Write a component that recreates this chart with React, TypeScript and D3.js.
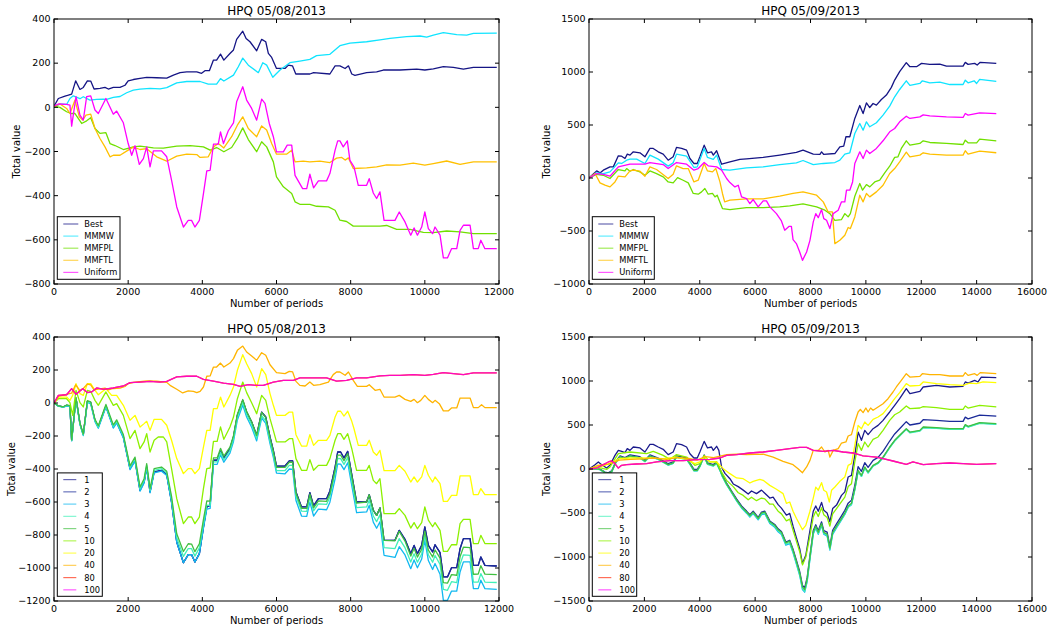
import * as d3 from 'd3'

type Pt = [number, number]

const TITLE_A = 'HPQ 05/08/2013'
const TITLE_B = 'HPQ 05/09/2013'
const X_LABEL = 'Number of periods'
const Y_LABEL = 'Total value'

const TOP_NAMES = ['Best', 'MMMW', 'MMFPL', 'MMFTL', 'Uniform']
const TOP_COLORS = ['#151585', '#10e4ff', '#70e000', '#ffc000', '#ff00ff']
const WIN_NAMES = ['1', '2', '3', '4', '5', '10', '20', '40', '80', '100']
const WIN_COLORS = ['#1a1a8c', '#1a2a98', '#10b8f0', '#40f0b8', '#40c040', '#8cf000', '#ffff00', '#ffb400', '#ff2000', '#ff00ff']

const X_TICKS_A = [0, 2000, 4000, 6000, 8000, 10000, 12000]
const X_TICKS_B = [0, 2000, 4000, 6000, 8000, 10000, 12000, 14000, 16000]
const Y_TICKS_TL = [-800, -600, -400, -200, 0, 200, 400]
const Y_TICKS_TR = [-1000, -500, 0, 500, 1000, 1500]
const Y_TICKS_BL = [-1200, -1000, -800, -600, -400, -200, 0, 200, 400]
const Y_TICKS_BR = [-1500, -1000, -500, 0, 500, 1000, 1500]

// ---- top left: HPQ 05/08/2013, methods
const TL_BEST: Pt[] = [[0,5],[117,40],[297,51],[387,55],[476,60],[584,120],[700,81],[790,90],[900,120],[990,119],[1080,83],[1240,86],[1375,90],[1465,83],[1600,90],[1780,90],[1915,100],[2000,120],[2140,126],[2320,131],[2500,136],[2770,134],[3040,132],[3220,146],[3400,157],[3580,161],[3850,161],[3980,154],[4070,166],[4190,166],[4300,214],[4385,214],[4490,241],[4580,214],[4745,244],[4840,260],[4925,308],[5090,345],[5180,312],[5285,297],[5465,256],[5600,308],[5710,297],[5780,244],[5870,226],[6000,176],[6230,176],[6320,191],[6430,188],[6520,151],[6900,151],[7000,157],[7440,151],[7580,188],[7710,188],[7850,176],[7940,188],[8030,151],[8115,145],[8430,157],[8700,161],[8880,169],[9330,169],[9780,173],[10000,169],[10230,174],[10500,184],[10770,181],[11040,173],[11310,181],[11940,181]]
const TL_MMMW: Pt[] = [[0,0],[160,15],[340,13],[430,40],[520,52],[700,39],[790,48],[970,33],[1150,36],[1330,37],[1420,36],[1600,45],[1780,49],[1960,66],[2140,78],[2320,82],[2590,86],[2860,84],[3040,89],[3310,111],[3580,117],[3940,117],[4160,105],[4385,105],[4490,130],[4580,119],[4840,146],[4970,184],[5090,223],[5240,191],[5510,157],[5630,202],[5735,191],[5900,136],[6095,169],[6360,202],[6630,209],[6900,217],[7080,234],[7440,240],[7710,279],[7980,291],[8430,297],[8790,305],[9060,312],[9510,320],[9870,323],[10050,318],[10230,327],[10500,338],[10860,329],[11130,327],[11310,335],[11940,336]]
const TL_MMFPL: Pt[] = [[0,5],[160,0],[340,-20],[476,-28],[566,-28],[746,-73],[880,-61],[990,-47],[1105,-96],[1240,-118],[1400,-115],[1510,-164],[1645,-173],[1870,-191],[2140,-179],[2320,-176],[2680,-184],[2950,-185],[3310,-176],[3670,-173],[4030,-179],[4210,-194],[4385,-182],[4580,-201],[4790,-182],[4945,-141],[5090,-93],[5240,-146],[5465,-201],[5600,-156],[5735,-179],[5915,-247],[6000,-315],[6185,-360],[6410,-390],[6500,-428],[6630,-439],[6900,-439],[7080,-448],[7400,-451],[7580,-466],[7710,-511],[7890,-517],[8070,-538],[8430,-538],[8790,-538],[8970,-535],[9240,-553],[9600,-553],[9960,-566],[10230,-567],[10590,-560],[10950,-564],[11310,-572],[11940,-572]]
const TL_MMFTL: Pt[] = [[0,5],[160,15],[340,-5],[430,-28],[566,33],[683,-43],[773,-58],[863,-35],[990,-31],[1105,-96],[1240,-141],[1375,-179],[1510,-224],[1600,-217],[1780,-217],[2000,-194],[2140,-180],[2320,-191],[2500,-187],[2770,-224],[3040,-244],[3310,-221],[3580,-212],[3850,-214],[3940,-227],[4160,-224],[4300,-179],[4430,-164],[4580,-184],[4790,-133],[4945,-81],[5090,-43],[5240,-96],[5465,-133],[5600,-84],[5735,-103],[5870,-164],[6000,-212],[6270,-212],[6410,-194],[6500,-247],[6720,-244],[6900,-247],[7170,-244],[7440,-250],[7620,-230],[7760,-227],[7850,-239],[7940,-229],[8070,-277],[8430,-274],[8700,-270],[8970,-261],[9330,-262],[9690,-253],[10000,-262],[10230,-255],[10590,-243],[10950,-258],[11310,-247],[11940,-247]]
const TL_UNIFORM: Pt[] = [[0,5],[117,15],[340,13],[430,10],[476,-85],[593,48],[700,-35],[790,-58],[880,48],[990,52],[1105,-12],[1195,-28],[1400,40],[1600,-31],[1690,-17],[1870,-70],[2000,-164],[2095,-217],[2185,-174],[2300,-258],[2410,-232],[2500,-179],[2590,-270],[2680,-197],[2900,-197],[3040,-224],[3170,-330],[3310,-451],[3490,-542],[3620,-512],[3710,-512],[3800,-542],[3920,-512],[4030,-391],[4120,-288],[4210,-285],[4300,-167],[4430,-167],[4490,-111],[4570,-164],[4700,-106],[4840,-70],[4925,25],[5090,93],[5195,33],[5330,-5],[5465,-58],[5600,37],[5690,18],[5805,-73],[5915,-133],[6000,-202],[6185,-202],[6290,-171],[6410,-171],[6500,-308],[6705,-368],[6815,-368],[6900,-303],[7000,-365],[7130,-333],[7350,-333],[7440,-300],[7580,-194],[7650,-152],[7710,-152],[7800,-179],[7910,-152],[7980,-240],[8090,-270],[8205,-353],[8430,-353],[8500,-323],[8610,-388],[8700,-413],[8790,-383],[8900,-512],[9195,-512],[9310,-474],[9465,-519],[9620,-579],[9710,-546],[9800,-579],[9915,-542],[10000,-474],[10095,-549],[10210,-572],[10275,-542],[10410,-579],[10500,-682],[10610,-682],[10720,-640],[10860,-640],[10950,-557],[11040,-534],[11220,-534],[11310,-640],[11440,-640],[11510,-602],[11620,-640],[11940,-640]]

// ---- top right: HPQ 05/09/2013, methods
const TR_BEST: Pt[] = [[0,0],[277,67],[397,48],[517,74],[758,105],[878,105],[1059,209],[1179,206],[1300,184],[1383,225],[1480,216],[1600,247],[1840,238],[2020,200],[2200,279],[2320,279],[2500,247],[2680,225],[2860,168],[3040,200],[3160,288],[3345,279],[3525,263],[3645,184],[3790,137],[3910,137],[4005,200],[4160,310],[4280,238],[4425,247],[4490,216],[4610,257],[4690,200],[4790,130],[5090,152],[5450,175],[5690,181],[6290,194],[6890,216],[7490,241],[7730,263],[8100,225],[8340,222],[8400,247],[8480,222],[8880,231],[9060,294],[9200,301],[9280,389],[9420,389],[9600,562],[9780,684],[9900,608],[10020,709],[10140,665],[10260,703],[10380,687],[10560,741],[10740,782],[10920,855],[11040,924],[11220,1003],[11460,1088],[11590,1050],[11830,1050],[12010,1081],[12310,1072],[12670,1075],[12910,1056],[13510,1056],[13590,1091],[13690,1072],[13930,1081],[14020,1066],[14130,1091],[14710,1081]]
const TR_MMMW: Pt[] = [[0,0],[277,48],[517,42],[758,58],[1059,143],[1179,137],[1360,168],[1480,178],[1720,178],[2020,137],[2200,216],[2500,178],[2860,112],[3040,143],[3160,225],[3525,206],[3790,99],[3910,105],[4160,278],[4280,194],[4490,175],[4610,216],[4790,80],[5090,74],[5690,96],[6290,105],[6890,127],[7490,143],[7730,165],[8100,127],[8460,137],[8880,146],[9060,168],[9240,225],[9420,238],[9600,420],[9780,514],[9900,451],[10020,530],[10140,483],[10380,521],[10620,593],[10860,678],[11040,766],[11220,835],[11460,917],[11590,873],[11950,892],[12040,917],[12310,898],[12670,904],[13030,882],[13510,882],[13590,923],[13690,898],[13910,917],[14000,892],[14110,930],[14710,911]]
const TR_MMFPL: Pt[] = [[0,0],[277,35],[517,26],[758,-5],[1059,80],[1300,67],[1360,89],[1480,64],[1600,80],[1840,58],[2020,26],[2200,67],[2440,42],[2680,11],[2860,-37],[3040,-46],[3200,4],[3400,-21],[3585,-46],[3765,-146],[3945,-153],[4065,-131],[4185,-99],[4305,-153],[4460,-146],[4550,-178],[4630,-162],[4820,-288],[5090,-298],[5690,-279],[6290,-279],[6890,-272],[7250,-263],[7730,-244],[8220,-272],[8520,-304],[8700,-336],[8880,-399],[9120,-392],[9240,-336],[9360,-367],[9440,-336],[9600,-172],[9780,-52],[9880,-115],[10020,-62],[10140,-84],[10320,-37],[10500,-21],[10680,48],[10860,111],[11040,194],[11160,200],[11280,279],[11460,351],[11590,310],[11950,326],[12070,351],[12310,335],[12910,326],[13510,316],[13590,357],[13690,332],[14000,332],[14110,367],[14710,351]]
const TR_MMFTL: Pt[] = [[0,0],[217,42],[397,-46],[577,-68],[758,-84],[938,-37],[1059,17],[1300,11],[1480,67],[1600,74],[1840,64],[2020,17],[2200,105],[2440,80],[2860,-5],[3040,36],[3160,115],[3400,89],[3585,89],[3790,-37],[3945,-21],[4160,137],[4280,67],[4460,58],[4580,89],[4730,-37],[4820,-146],[4900,-225],[5090,-209],[5690,-197],[6290,-197],[6890,-172],[7370,-146],[7730,-131],[8220,-162],[8460,-225],[8640,-320],[8790,-320],[8880,-619],[9060,-588],[9240,-540],[9360,-467],[9440,-477],[9600,-367],[9780,-162],[9900,-225],[10020,-146],[10140,-178],[10380,-131],[10620,-68],[10860,42],[11040,89],[11220,152],[11460,244],[11590,200],[11950,216],[12070,238],[12310,225],[12910,216],[13510,216],[13590,257],[13690,225],[14110,253],[14710,238]]
const TR_UNIFORM: Pt[] = [[0,0],[277,42],[517,35],[758,17],[1059,105],[1480,130],[2020,130],[2200,146],[2680,127],[2860,89],[3160,146],[3525,130],[3790,74],[3945,89],[4160,146],[4305,115],[4610,105],[4790,74],[4970,-5],[5090,-43],[5270,-84],[5390,-68],[5510,-178],[5690,-194],[5810,-241],[5930,-203],[6110,-272],[6290,-216],[6410,-216],[6530,-272],[6770,-336],[6950,-405],[7070,-493],[7230,-456],[7310,-456],[7370,-582],[7490,-619],[7610,-698],[7710,-777],[7860,-698],[7980,-588],[8100,-414],[8190,-336],[8280,-374],[8400,-298],[8480,-383],[8580,-399],[8700,-477],[8820,-336],[9000,-304],[9120,-225],[9240,-225],[9300,-115],[9420,-115],[9520,-37],[9600,137],[9780,247],[9900,184],[10020,263],[10140,231],[10380,279],[10620,351],[10860,436],[11040,467],[11220,530],[11460,583],[11590,562],[11950,577],[12070,596],[12310,587],[12910,577],[13510,571],[13590,608],[13690,593],[14110,615],[14710,608]]

// ---- bottom left: HPQ 05/08/2013, window sizes
const BL_2: Pt[] = [[0,0],[117,-18],[250,-24],[340,-14],[430,-18],[476,-226],[593,30],[700,-125],[790,-192],[900,10],[990,2],[1105,-105],[1195,-145],[1400,-18],[1600,-145],[1690,-115],[1870,-206],[2050,-398],[2185,-347],[2320,-529],[2430,-479],[2500,-388],[2590,-539],[2700,-418],[2900,-408],[3040,-434],[3170,-600],[3310,-842],[3490,-968],[3620,-919],[3710,-919],[3800,-964],[3920,-913],[4030,-752],[4120,-630],[4210,-620],[4300,-347],[4400,-347],[4490,-287],[4580,-333],[4745,-277],[4840,-206],[4945,-75],[5090,16],[5195,-55],[5330,-115],[5465,-196],[5600,-55],[5710,-85],[5825,-206],[5915,-287],[6000,-382],[6230,-382],[6345,-351],[6435,-351],[6525,-539],[6675,-630],[6815,-630],[6900,-543],[7000,-624],[7130,-580],[7350,-580],[7440,-533],[7580,-388],[7650,-297],[7730,-297],[7820,-333],[7920,-293],[8030,-434],[8160,-600],[8430,-600],[8500,-556],[8610,-650],[8700,-681],[8790,-636],[8900,-832],[9195,-832],[9310,-772],[9465,-826],[9620,-913],[9710,-863],[9800,-913],[9915,-863],[10000,-751],[10095,-863],[10210,-903],[10275,-859],[10410,-907],[10500,-1054],[10610,-1054],[10720,-998],[10860,-998],[10950,-883],[11040,-822],[11220,-822],[11310,-984],[11440,-984],[11510,-933],[11620,-984],[11940,-988]]
const BL_1: Pt[] = BL_2
const BL_3: Pt[] = [[0,0],[117,-19],[250,-26],[340,-17],[430,-21],[476,-230],[593,25],[700,-131],[790,-198],[900,3],[990,-6],[1105,-113],[1195,-153],[1400,-25],[1600,-152],[1690,-121],[1870,-212],[2050,-404],[2185,-352],[2320,-534],[2430,-484],[2500,-393],[2590,-544],[2700,-423],[2900,-413],[3040,-439],[3170,-604],[3310,-844],[3490,-968],[3620,-919],[3710,-919],[3800,-964],[3920,-913],[4030,-759],[4120,-643],[4210,-639],[4300,-372],[4400,-372],[4490,-313],[4580,-359],[4745,-304],[4840,-233],[4945,-103],[5090,-12],[5195,-85],[5330,-147],[5465,-230],[5600,-91],[5710,-123],[5825,-246],[5915,-329],[6000,-425],[6230,-429],[6345,-400],[6435,-402],[6525,-591],[6675,-685],[6815,-687],[6900,-601],[7000,-685],[7130,-643],[7350,-647],[7440,-601],[7580,-459],[7650,-369],[7730,-370],[7820,-404],[7920,-362],[8030,-501],[8160,-665],[8430,-660],[8500,-621],[8610,-722],[8700,-759],[8790,-720],[8900,-923],[9195,-936],[9310,-871],[9465,-921],[9620,-1004],[9710,-951],[9800,-999],[9915,-946],[10000,-831],[10095,-955],[10210,-1009],[10275,-973],[10410,-1038],[10500,-1196],[10610,-1196],[10720,-1140],[10860,-1140],[10950,-1024],[11040,-963],[11220,-963],[11310,-1125],[11440,-1125],[11510,-1074],[11620,-1125],[11940,-1129]]
const BL_4: Pt[] = [[0,0],[117,-18],[250,-25],[340,-15],[430,-19],[476,-227],[593,28],[700,-127],[790,-194],[900,7],[990,-1],[1105,-107],[1195,-146],[1400,-17],[1600,-142],[1690,-111],[1870,-200],[2050,-390],[2185,-338],[2320,-519],[2430,-469],[2500,-378],[2590,-529],[2700,-408],[2900,-398],[3040,-424],[3170,-582],[3310,-816],[3490,-930],[3620,-882],[3710,-883],[3800,-928],[3920,-878],[4030,-729],[4120,-619],[4210,-620],[4300,-357],[4400,-357],[4490,-298],[4580,-344],[4745,-288],[4840,-217],[4945,-87],[5090,4],[5195,-69],[5330,-131],[5465,-215],[5600,-76],[5710,-108],[5825,-231],[5915,-314],[6000,-410],[6230,-409],[6345,-378],[6435,-377],[6525,-565],[6675,-655],[6815,-657],[6900,-571],[7000,-654],[7130,-611],[7350,-615],[7440,-569],[7580,-426],[7650,-336],[7730,-337],[7820,-372],[7920,-330],[8030,-470],[8160,-634],[8430,-630],[8500,-588],[8610,-685],[8700,-719],[8790,-677],[8900,-876],[9195,-882],[9310,-822],[9465,-877],[9620,-964],[9710,-914],[9800,-965],[9915,-915],[10000,-803],[10095,-920],[10210,-965],[10275,-924],[10410,-978],[10500,-1130],[10610,-1135],[10720,-1083],[10860,-1089],[10950,-978],[11040,-920],[11220,-923],[11310,-1085],[11440,-1085],[11510,-1034],[11620,-1085],[11940,-1088]]
const BL_5: Pt[] = [[0,0],[117,-17],[250,-23],[340,-12],[430,-16],[476,-224],[593,33],[700,-121],[790,-188],[900,14],[990,7],[1105,-99],[1195,-138],[1400,-9],[1600,-133],[1690,-102],[1870,-191],[2050,-381],[2185,-328],[2320,-509],[2430,-459],[2500,-368],[2590,-519],[2700,-398],[2900,-388],[3040,-414],[3170,-566],[3310,-793],[3490,-900],[3620,-853],[3710,-855],[3800,-901],[3920,-853],[4030,-705],[4120,-594],[4210,-595],[4300,-332],[4400,-333],[4490,-275],[4580,-322],[4745,-268],[4840,-198],[4945,-68],[5090,21],[5195,-52],[5330,-114],[5465,-197],[5600,-57],[5710,-89],[5825,-211],[5915,-294],[6000,-390],[6230,-390],[6345,-359],[6435,-359],[6525,-547],[6675,-638],[6815,-639],[6900,-553],[7000,-636],[7130,-593],[7350,-596],[7440,-550],[7580,-406],[7650,-316],[7730,-316],[7820,-350],[7920,-307],[8030,-445],[8160,-607],[8430,-600],[8500,-556],[8610,-650],[8700,-681],[8790,-636],[8900,-832],[9195,-835],[9310,-778],[9465,-837],[9620,-928],[9710,-881],[9800,-934],[9915,-886],[10000,-777],[10095,-891],[10210,-933],[10275,-890],[10410,-940],[10500,-1088],[10610,-1092],[10720,-1040],[10860,-1044],[10950,-932],[11040,-874],[11220,-876],[11310,-1038],[11440,-1037],[11510,-986],[11620,-1037],[11940,-1040]]
const BL_10: Pt[] = [[0,0],[117,26],[340,26],[430,2],[503,-75],[593,77],[700,2],[790,-24],[900,77],[990,71],[1105,16],[1195,-14],[1400,67],[1600,-14],[1690,-4],[1870,-75],[2050,-216],[2185,-166],[2320,-277],[2430,-236],[2500,-186],[2590,-297],[2700,-226],[2810,-206],[2950,-206],[3040,-236],[3170,-398],[3310,-580],[3490,-731],[3620,-691],[3710,-691],[3800,-731],[3920,-691],[4030,-519],[4120,-398],[4210,-394],[4300,-232],[4400,-232],[4490,-145],[4580,-220],[4745,-145],[4840,-85],[4945,26],[5090,127],[5195,63],[5330,2],[5465,-65],[5600,46],[5710,16],[5825,-95],[5915,-166],[6000,-236],[6230,-236],[6345,-216],[6435,-216],[6525,-337],[6675,-408],[6815,-408],[6900,-343],[7000,-408],[7130,-378],[7350,-378],[7440,-337],[7580,-226],[7650,-186],[7730,-186],[7820,-220],[7920,-186],[8030,-277],[8160,-408],[8430,-408],[8500,-378],[8610,-469],[8700,-489],[8790,-459],[8900,-671],[9195,-671],[9310,-640],[9465,-681],[9620,-758],[9710,-725],[9800,-762],[9915,-725],[10000,-630],[10095,-710],[10210,-750],[10275,-725],[10410,-772],[10500,-899],[10610,-899],[10720,-859],[10860,-859],[10950,-731],[11040,-705],[11220,-705],[11310,-852],[11440,-852],[11510,-802],[11620,-852],[11940,-852]]
const BL_20: Pt[] = [[0,0],[117,36],[340,36],[430,16],[503,46],[593,117],[700,57],[790,46],[900,117],[990,117],[1105,77],[1195,50],[1400,87],[1555,46],[1690,46],[1870,-14],[2050,-105],[2185,-75],[2320,-146],[2430,-125],[2500,-111],[2590,-166],[2700,-99],[2900,-99],[3040,-135],[3170,-226],[3310,-337],[3490,-428],[3620,-398],[3710,-398],[3800,-428],[3920,-398],[4030,-267],[4120,-166],[4210,-166],[4300,-34],[4400,-34],[4490,36],[4580,-24],[4745,46],[4840,97],[4945,198],[5090,293],[5195,238],[5330,178],[5465,97],[5600,208],[5710,172],[5825,57],[5915,-14],[6000,-75],[6230,-75],[6345,-55],[6435,-55],[6525,-192],[6675,-261],[6815,-261],[6900,-192],[7000,-257],[7130,-226],[7350,-226],[7440,-196],[7580,-85],[7650,-50],[7730,-50],[7820,-79],[7920,-50],[8030,-111],[8090,-156],[8205,-257],[8430,-257],[8500,-226],[8610,-297],[8700,-317],[8790,-287],[8900,-410],[9195,-410],[9310,-378],[9465,-414],[9620,-479],[9710,-448],[9800,-479],[9915,-448],[10000,-378],[10095,-438],[10210,-479],[10275,-448],[10410,-489],[10500,-596],[10610,-596],[10720,-560],[10860,-560],[10950,-442],[11220,-442],[11310,-555],[11440,-555],[11510,-519],[11620,-555],[11940,-555]]
const BL_40: Pt[] = [[0,0],[117,40],[340,52],[476,60],[584,110],[700,75],[790,88],[900,115],[990,110],[1080,80],[1240,85],[1375,90],[1465,80],[1600,88],[1780,90],[1915,100],[2000,118],[2140,125],[2320,130],[2500,134],[2770,133],[3040,125],[3130,107],[3310,83],[3470,61],[3620,73],[3760,71],[3850,63],[3940,71],[4030,97],[4120,162],[4210,164],[4300,218],[4385,218],[4490,242],[4580,218],[4745,242],[4840,269],[4945,319],[5090,345],[5195,309],[5330,285],[5465,259],[5600,305],[5710,289],[5825,232],[6000,184],[6230,178],[6345,192],[6435,188],[6525,131],[6630,107],[6770,103],[6900,127],[7000,107],[7170,111],[7400,127],[7530,172],[7620,188],[7710,188],[7850,168],[7940,188],[8070,137],[8180,101],[8430,101],[8500,111],[8660,77],[8790,83],[8900,36],[9195,36],[9310,46],[9465,22],[9620,10],[9710,22],[9800,2],[9890,16],[10000,46],[10095,22],[10210,2],[10275,16],[10390,-4],[10500,-48],[10630,-48],[10720,-30],[10860,-30],[10950,30],[11220,30],[11310,-28],[11440,-28],[11530,-10],[11620,-28],[11940,-28]]
const BL_100: Pt[] = [[0,0],[117,46],[340,50],[476,87],[593,53],[773,87],[900,63],[1015,67],[1150,91],[1330,83],[1600,91],[1870,103],[2050,123],[2320,127],[2590,131],[2860,127],[3040,131],[3310,158],[3580,162],[3850,162],[4030,143],[4300,133],[4570,121],[4840,113],[5020,101],[5240,111],[5465,107],[5645,107],[5915,127],[6185,137],[6455,137],[6630,152],[7000,152],[7350,152],[7620,133],[7890,137],[8160,152],[8430,152],[8790,164],[9060,168],[9330,168],[9690,172],[10000,168],[10230,174],[10500,184],[10770,178],[11040,172],[11310,182],[11940,182]]
const BL_80: Pt[] = BL_100

// ---- bottom right: HPQ 05/09/2013, window sizes
const BR_1: Pt[] = [[0,0],[217,49],[337,80],[457,49],[638,11],[758,42],[938,155],[1059,212],[1179,200],[1300,186],[1383,231],[1480,212],[1600,250],[1840,239],[2020,193],[2200,280],[2320,280],[2500,250],[2680,224],[2860,163],[3040,193],[3160,288],[3345,277],[3525,250],[3645,174],[3790,125],[3910,125],[4005,193],[4160,314],[4280,239],[4425,250],[4490,212],[4610,258],[4690,212],[4790,20],[4910,-50],[5090,-110],[5210,-170],[5390,-200],[5570,-240],[5750,-285],[5870,-250],[6050,-280],[6230,-240],[6350,-275],[6530,-330],[6650,-320],[6830,-405],[6950,-445],[7130,-525],[7250,-505],[7370,-650],[7490,-780],[7610,-905],[7710,-1075],[7830,-980],[7980,-700],[8100,-480],[8190,-420],[8280,-480],[8400,-380],[8480,-470],[8600,-500],[8700,-600],[8800,-450],[8940,-410],[9120,-300],[9240,-260],[9360,-91],[9480,-72],[9600,155],[9720,420],[9840,326],[9960,439],[10080,390],[10260,458],[10440,496],[10620,553],[10860,648],[11040,724],[11220,799],[11460,913],[11590,856],[11950,883],[12070,932],[12550,951],[13030,932],[13510,940],[13590,989],[13690,977],[13930,1008],[14050,989],[14170,1045],[14710,1038]]
const BR_2: Pt[] = [[0,0],[217,6],[397,-2],[577,-35],[698,-44],[818,-22],[974,90],[1119,150],[1300,130],[1480,160],[1840,140],[2020,100],[2200,160],[2500,125],[2860,60],[3040,80],[3160,150],[3525,125],[3645,70],[3790,-5],[3910,-5],[4005,44],[4160,160],[4280,70],[4490,50],[4610,80],[4730,0],[4820,-70],[4970,-160],[5150,-250],[5330,-340],[5510,-420],[5690,-478],[5810,-520],[5930,-480],[6110,-550],[6230,-490],[6350,-480],[6530,-590],[6710,-630],[6830,-680],[6950,-710],[7110,-830],[7250,-810],[7370,-912],[7490,-1036],[7610,-1165],[7710,-1322],[7790,-1350],[7880,-1232],[7980,-984],[8100,-700],[8190,-634],[8280,-702],[8400,-600],[8480,-700],[8600,-718],[8700,-876],[8800,-696],[8940,-624],[9120,-532],[9240,-470],[9360,-388],[9480,-356],[9600,-186],[9720,28],[9840,-26],[9960,72],[10080,18],[10260,98],[10440,132],[10620,200],[10860,318],[11040,398],[11220,458],[11460,538],[11590,500],[11950,520],[12070,560],[12550,553],[13030,541],[13510,541],[13590,590],[13690,570],[14110,612],[14710,600]]
const BR_3: Pt[] = [[0,0],[217,2],[397,-7],[577,-44],[698,-55],[818,-36],[974,76],[1119,136],[1300,115],[1480,145],[1840,125],[2020,85],[2200,145],[2500,110],[2860,45],[3040,65],[3160,135],[3525,110],[3645,55],[3790,-20],[3910,-20],[4005,29],[4160,145],[4280,55],[4490,35],[4610,64],[4730,-16],[4820,-87],[4970,-178],[5150,-270],[5330,-362],[5510,-443],[5690,-502],[5810,-545],[5930,-506],[6110,-577],[6230,-518],[6350,-509],[6530,-620],[6710,-662],[6830,-713],[6950,-745],[7110,-866],[7250,-848],[7370,-953],[7490,-1080],[7610,-1210],[7710,-1370],[7790,-1400],[7880,-1280],[7980,-1025],[8100,-740],[8190,-672],[8280,-742],[8400,-642],[8480,-742],[8600,-762],[8700,-922],[8800,-742],[8940,-670],[9120,-578],[9240,-517],[9360,-436],[9480,-405],[9600,-238],[9720,-28],[9840,-84],[9960,12],[10080,-44],[10260,34],[10440,65],[10620,130],[10860,245],[11040,321],[11220,378],[11460,453],[11590,415],[11950,434],[12070,472],[12550,465],[13030,453],[13510,453],[13590,499],[13690,480],[14110,522],[14710,510]]
const BR_4: Pt[] = [[0,0],[217,3],[397,-6],[577,-43],[698,-54],[818,-35],[974,75],[1119,134],[1300,113],[1480,143],[1840,123],[2020,83],[2200,143],[2500,108],[2860,43],[3040,63],[3160,133],[3525,108],[3645,53],[3790,-22],[3910,-22],[4005,27],[4160,143],[4280,53],[4490,33],[4610,62],[4730,-18],[4820,-88],[4970,-178],[5150,-268],[5330,-358],[5510,-438],[5690,-496],[5810,-539],[5930,-499],[6110,-569],[6230,-509],[6350,-499],[6530,-610],[6710,-651],[6830,-702],[6950,-733],[7110,-854],[7250,-835],[7370,-940],[7490,-1068],[7610,-1200],[7710,-1360],[7790,-1390],[7880,-1270],[7980,-1018],[8100,-730],[8190,-662],[8280,-732],[8400,-632],[8480,-732],[8600,-752],[8700,-912],[8800,-732],[8940,-662],[9120,-572],[9240,-512],[9360,-432],[9480,-402],[9600,-236],[9720,-27],[9840,-84],[9960,12],[10080,-45],[10260,32],[10440,62],[10620,127],[10860,241],[11040,317],[11220,374],[11460,450],[11590,412],[11950,431],[12070,469],[12550,462],[13030,450],[13510,450],[13590,496],[13690,477],[14110,519],[14710,507]]
const BR_5: Pt[] = [[0,0],[217,4],[397,-4],[577,-40],[698,-50],[818,-30],[974,80],[1119,140],[1300,120],[1480,150],[1840,130],[2020,90],[2200,150],[2500,115],[2860,50],[3040,70],[3160,140],[3525,115],[3645,60],[3790,-15],[3910,-15],[4005,34],[4160,150],[4280,60],[4490,40],[4610,70],[4730,-10],[4820,-80],[4970,-170],[5150,-260],[5330,-350],[5510,-430],[5690,-488],[5810,-530],[5930,-490],[6110,-560],[6230,-500],[6350,-490],[6530,-600],[6710,-640],[6830,-690],[6950,-720],[7110,-840],[7250,-820],[7370,-924],[7490,-1050],[7610,-1180],[7710,-1340],[7790,-1370],[7880,-1250],[7980,-1000],[8100,-716],[8190,-650],[8280,-720],[8400,-620],[8480,-720],[8600,-740],[8700,-900],[8800,-720],[8940,-650],[9120,-560],[9240,-500],[9360,-420],[9480,-390],[9600,-224],[9720,-15],[9840,-72],[9960,23],[10080,-34],[10260,42],[10440,72],[10620,136],[10860,250],[11040,326],[11220,383],[11460,458],[11590,420],[11950,439],[12070,477],[12550,470],[13030,458],[13510,458],[13590,504],[13690,485],[14110,527],[14710,515]]
const BR_10: Pt[] = [[0,0],[277,23],[638,-4],[758,23],[1059,174],[1480,193],[2080,174],[2320,200],[2680,155],[2920,110],[3160,163],[3525,136],[3825,42],[4005,61],[4160,155],[4365,80],[4610,80],[4790,-34],[4970,-129],[5210,-200],[5390,-270],[5570,-300],[5750,-350],[5870,-320],[6050,-360],[6230,-330],[6350,-340],[6530,-400],[6650,-400],[6830,-480],[6950,-510],[7130,-590],[7250,-570],[7370,-696],[7490,-820],[7610,-940],[7710,-1090],[7830,-1000],[7980,-760],[8100,-545],[8190,-480],[8280,-540],[8400,-440],[8480,-520],[8600,-550],[8700,-650],[8800,-510],[8940,-450],[9120,-370],[9240,-320],[9360,-200],[9480,-167],[9600,80],[9720,288],[9840,212],[9960,307],[10080,250],[10260,337],[10440,364],[10620,439],[10860,553],[11040,617],[11220,648],[11460,716],[11590,686],[11950,693],[12070,708],[12550,697],[13030,678],[13510,678],[13590,716],[13690,693],[14110,723],[14710,705]]
const BR_20: Pt[] = [[0,0],[277,11],[638,49],[878,80],[1059,117],[1480,125],[2080,125],[2680,117],[3160,136],[3525,110],[3825,61],[4005,80],[4160,136],[4365,80],[4610,80],[4850,4],[5090,-53],[5330,-102],[5570,-110],[5810,-159],[5930,-140],[6170,-117],[6290,-129],[6530,-186],[6770,-230],[7010,-280],[7130,-390],[7250,-375],[7370,-480],[7490,-560],[7610,-630],[7710,-690],[7830,-640],[7980,-480],[8100,-330],[8190,-205],[8280,-240],[8400,-155],[8480,-242],[8580,-261],[8680,-375],[8760,-242],[8880,-205],[9060,-140],[9240,-91],[9360,42],[9480,61],[9600,269],[9720,496],[9840,458],[9960,534],[10080,496],[10260,564],[10440,591],[10620,629],[10860,724],[11040,799],[11220,867],[11460,970],[11590,943],[11950,951],[12070,989],[12550,970],[13030,958],[13510,951],[13750,977],[14000,970],[14230,989],[14710,981]]
const BR_40: Pt[] = [[0,0],[300,40],[700,55],[1100,100],[1500,110],[2000,115],[2300,125],[2800,110],[3200,130],[3600,120],[3900,100],[4200,140],[4500,130],[4970,163],[5330,170],[5690,163],[6290,170],[6650,136],[7010,87],[7370,49],[7550,4],[7710,-42],[7860,23],[7980,98],[8100,212],[8280,212],[8400,250],[8520,193],[8640,212],[8700,136],[8820,212],[9000,231],[9120,295],[9280,307],[9360,375],[9480,390],[9600,534],[9720,648],[9800,678],[9900,640],[10000,693],[10080,648],[10170,693],[10260,667],[10440,705],[10620,742],[10800,799],[10980,875],[11100,932],[11280,1008],[11460,1083],[11590,1045],[11950,1053],[12040,1083],[12310,1072],[12670,1072],[13030,1057],[13510,1057],[13590,1095],[13690,1064],[13930,1083],[14020,1064],[14130,1095],[14710,1083]]
const BR_100: Pt[] = [[0,0],[277,11],[517,49],[698,80],[818,91],[938,61],[1059,11],[1179,42],[1360,49],[1720,57],[2080,61],[2440,80],[2920,95],[3400,95],[3885,106],[4365,110],[4730,125],[4970,155],[5330,163],[5810,182],[6290,193],[6770,212],[7250,231],[7610,246],[7860,246],[8100,212],[8460,200],[8820,212],[9180,193],[9540,182],[9900,148],[10380,136],[10620,117],[10980,91],[11460,53],[11700,80],[12070,49],[12550,61],[13030,68],[13510,61],[14000,53],[14710,61]]
const BR_80: Pt[] = BR_100

const FONT = '"DejaVu Sans", sans-serif'

interface PanelProps {
  id: string
  left: number
  top: number
  right: number
  bottom: number
  xTicks: number[]
  yTicks: number[]
  title: string
  names: string[]
  colors: string[]
  series: Pt[][]
  yLabelX: number
  legW: number
  legH: number
  legFirst: number
  legStep: number
  legLine: number
}

function Panel(p: PanelProps) {
  const x = d3.scaleLinear().domain([p.xTicks[0], p.xTicks[p.xTicks.length - 1]]).range([p.left, p.right])
  const y = d3.scaleLinear().domain([p.yTicks[0], p.yTicks[p.yTicks.length - 1]]).range([p.bottom, p.top])
  const line = d3.line<Pt>().x(d => x(d[0])).y(d => y(d[1]))
  const fmt = d3.format('d')
  const cx = (p.left + p.right) / 2
  const cy = (p.top + p.bottom) / 2
  const lx = p.left + 3.3
  const ly = p.bottom - 4.7 - p.legH

  return (
    <g>
      <defs>
        <clipPath id={p.id}>
          <rect x={p.left} y={p.top} width={p.right - p.left} height={p.bottom - p.top} />
        </clipPath>
      </defs>
      <rect x={p.left} y={p.top} width={p.right - p.left} height={p.bottom - p.top} fill="#fff" />
      <g clipPath={`url(#${p.id})`}>
        {p.series.map((s, i) => (
          <path key={i} d={line(s) || ''} fill="none" stroke={p.colors[i]} strokeWidth={1.3}
            strokeLinejoin="round" strokeOpacity={p.names[i] === '100' ? 0.75 : 1} />
        ))}
      </g>
      {p.xTicks.map(t => (
        <g key={'x' + t}>
          <line x1={x(t)} x2={x(t)} y1={p.bottom} y2={p.bottom - 4} stroke="#000" />
          <line x1={x(t)} x2={x(t)} y1={p.top} y2={p.top + 4} stroke="#000" />
          <text x={x(t)} y={p.bottom + 11} textAnchor="middle" fontSize={9.5}>{fmt(t)}</text>
        </g>
      ))}
      {p.yTicks.map(t => (
        <g key={'y' + t}>
          <line x1={p.left} x2={p.left + 4} y1={y(t)} y2={y(t)} stroke="#000" />
          <line x1={p.right} x2={p.right - 4} y1={y(t)} y2={y(t)} stroke="#000" />
          <text x={p.left - 3.5} y={y(t)} dy="0.35em" textAnchor="end" fontSize={9.5}>{fmt(t)}</text>
        </g>
      ))}
      <rect x={p.left} y={p.top} width={p.right - p.left} height={p.bottom - p.top} fill="none" stroke="#000" strokeWidth={1} />
      <text x={cx} y={p.top - 4.5} textAnchor="middle" fontSize={12}>{p.title}</text>
      <text x={cx} y={p.bottom + 22.6} textAnchor="middle" fontSize={10}>{X_LABEL}</text>
      <text transform={`translate(${p.yLabelX},${cy}) rotate(-90)`} textAnchor="middle" fontSize={10}>{Y_LABEL}</text>
      <rect x={lx} y={ly} width={p.legW} height={p.legH} fill="#fff" stroke="#000" strokeWidth={1} />
      {p.names.map((n, i) => {
        const yy = ly + p.legFirst + i * p.legStep
        return (
          <g key={n}>
            <line x1={lx + 6} x2={lx + 6 + p.legLine} y1={yy} y2={yy} stroke={p.colors[i]} strokeWidth={1.2} strokeOpacity={0.65} />
            <text x={lx + 27} y={yy} dy="0.35em" fontSize={8.3}>{n}</text>
          </g>
        )
      })}
    </g>
  )
}

export default function App() {
  return (
    <svg width={1055} height={629} style={{ position: 'absolute', left: 0, top: 0, fontFamily: FONT }}>
      <rect width={1055} height={629} fill="#fff" />
      <Panel id="tl" left={54} top={19} right={499} bottom={284} xTicks={X_TICKS_A} yTicks={Y_TICKS_TL}
        title={TITLE_A} names={TOP_NAMES} colors={TOP_COLORS}
        series={[TL_BEST, TL_MMMW, TL_MMFPL, TL_MMFTL, TL_UNIFORM]}
        yLabelX={20.3} legW={62.7} legH={62.6} legFirst={7.3} legStep={12.1} legLine={15} />
      <Panel id="tr" left={589} top={19} right={1032} bottom={284} xTicks={X_TICKS_B} yTicks={Y_TICKS_TR}
        title={TITLE_B} names={TOP_NAMES} colors={TOP_COLORS}
        series={[TR_BEST, TR_MMMW, TR_MMFPL, TR_MMFTL, TR_UNIFORM]}
        yLabelX={549.6} legW={62} legH={62.6} legFirst={7.3} legStep={12.1} legLine={15} />
      <Panel id="bl" left={54} top={337} right={499} bottom={601} xTicks={X_TICKS_A} yTicks={Y_TICKS_BL}
        title={TITLE_A} names={WIN_NAMES} colors={WIN_COLORS}
        series={[BL_1, BL_2, BL_3, BL_4, BL_5, BL_10, BL_20, BL_40, BL_80, BL_100]}
        yLabelX={14.6} legW={45} legH={123.4} legFirst={6.7} legStep={12.25} legLine={13} />
      <Panel id="br" left={589} top={337} right={1032} bottom={601} xTicks={X_TICKS_B} yTicks={Y_TICKS_BR}
        title={TITLE_B} names={WIN_NAMES} colors={WIN_COLORS}
        series={[BR_1, BR_2, BR_3, BR_4, BR_5, BR_10, BR_20, BR_40, BR_80, BR_100]}
        yLabelX={549.6} legW={44.4} legH={123.4} legFirst={6.7} legStep={12.25} legLine={13} />
    </svg>
  )
}
